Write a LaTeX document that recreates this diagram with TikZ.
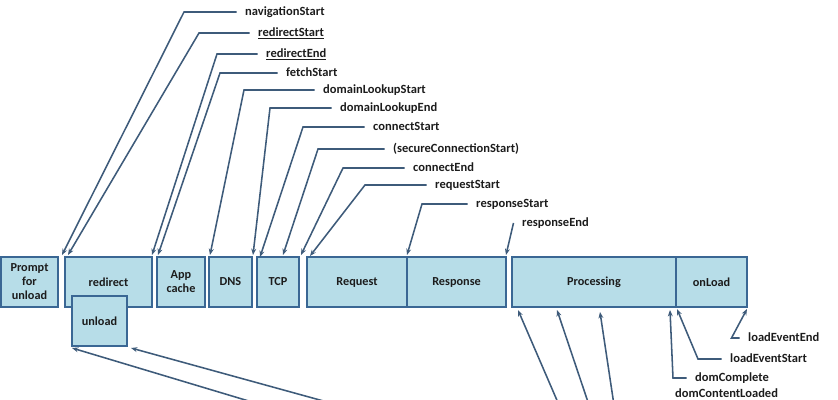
\documentclass[tikz,border=0pt]{standalone}
\usepackage{fontspec}
\setmainfont{Carlito}
\usetikzlibrary{arrows.meta,positioning}

\definecolor{boxfill}{HTML}{B7DDE8}
\definecolor{boxline}{HTML}{3A6794}
\definecolor{linkline}{HTML}{3E5B7A}
\definecolor{txt}{HTML}{1C1C1C}

\tikzset{
  stage/.style={draw=boxline, fill=boxfill, line width=1.4pt, minimum height=1.25cm,
    inner sep=0pt, outer sep=0pt, align=center, text=txt,
    font=\fontsize{8.7}{9.9}\selectfont\bfseries},
  tag/.style={anchor=west, inner xsep=6pt, inner ysep=0pt, text height=6.5pt,
    text depth=1.9pt, text=txt, font=\fontsize{8.9}{10}\selectfont\bfseries},
  link/.style={draw=linkline, line width=1.1pt, -{Stealth[length=4.5pt,width=3.5pt]}},
}

\begin{document}
\begin{tikzpicture}[x=0.025cm, y=-0.025cm]
	\useasboundingbox (0,0) rectangle (838,400);

	% Phasen
	\node[stage, minimum width=1.425cm] (prompt) at (29.5,282) {Prompt\\for\\unload};
	\node[stage, minimum width=2.175cm] (redirect) at (108.5,282) {redirect};
	\node[stage, minimum width=1.375cm] (unload) at (99.5,321) {unload};
	\node[stage, minimum width=1.2cm] (appcache) at (181,282) {App\\cache};
	\node[stage, minimum width=1.075cm] (dns) at (230.5,282) {DNS};
	\node[stage, minimum width=1.05cm] (tcp) at (278,282) {TCP};
	\node[stage, minimum width=2.5cm] (request) at (357,282) {Request};
	\node[stage, minimum width=2.475cm, right=0pt of request] (response) {Response};
	\node[stage, minimum width=4.1cm] (processing) at (594,282) {Processing};
	\node[stage, minimum width=1.775cm, right=0pt of processing] (onload) {onLoad};

	% Zeitpunkte oben
	\node[tag] (navStart) at (236.5,12) {navigationStart};
	\node[tag] (redirStart) at (249.5,33) {\underline{redirectStart}};
	\node[tag] (redirEnd) at (257.5,54) {\underline{redirectEnd}};
	\node[tag] (fetchStart) at (277.5,73) {fetchStart};
	\node[tag] (dnsStart) at (314.5,90) {domainLookupStart};
	\node[tag] (dnsEnd) at (331.5,108) {domainLookupEnd};
	\node[tag] (connStart) at (364.5,127) {connectStart};
	\node[tag] (secStart) at (384.5,149) {(secureConnectionStart)};
	\node[tag] (connEnd) at (404.5,168) {connectEnd};
	\node[tag] (reqStart) at (426.5,185) {requestStart};
	\node[tag] (respStart) at (467.5,204) {responseStart};
	\node[tag] (respEnd) at (513.5,223) {responseEnd};

	% Zeitpunkte unten
	\node[tag] (loadEnd) at (739.5,338) {loadEventEnd};
	\node[tag] (loadStart) at (721.5,359) {loadEventStart};
	\node[tag] (domCompl) at (686.5,378) {domComplete};
	\node[tag] (domCont) at (666.5,394) {domContentLoaded};

	% Pfeilspitzen
	\coordinate (navTip) at (62,255);
	\coordinate (redirStartTip) at (68,255);
	\coordinate (redirEndTip) at (152,255);
	\coordinate (fetchTip) at (158,255);
	\coordinate (dnsStartTip) at (210,255);
	\coordinate (dnsEndTip) at (253,255);
	\coordinate (connStartTip) at (260,257);
	\coordinate (secTip) at (283,255);
	\coordinate (connEndTip) at (301,255);
	\coordinate (reqTip) at (310,256);
	\coordinate (respStartTip) at (407,255);
	\coordinate (respEndTip) at (506,255);
	\coordinate (loadEndTip) at (747,309);
	\coordinate (loadStartTip) at (677,309);
	\coordinate (domComplTip) at (670,310);

	% Linien oben
	\draw[link] (navStart.west) -- ++(-52.5,0) -- (navTip);
	\draw[link] (redirStart.west) -- ++(-50.5,0) -- (redirStartTip);
	\draw[link] (redirEnd.west) -- ++(-40.5,0) -- (redirEndTip);
	\draw[link] (fetchStart.west) -- ++(-57.5,0) -- (fetchTip);
	\draw[link] (dnsStart.west) -- ++(-70.5,0) -- (dnsStartTip);
	\draw[link] (dnsEnd.west) -- ++(-61.5,0) -- (dnsEndTip);
	\draw[link] (connStart.west) -- ++(-61.5,0) -- (connStartTip);
	\draw[link] (secStart.west) -- ++(-66.5,0) -- (secTip);
	\draw[link] (connEnd.west) -- ++(-61.5,0) -- (connEndTip);
	\draw[link] (reqStart.west) -- ++(-61.5,0) -- (reqTip);
	\draw[link] (respStart.west) -- ++(-45.5,0) -- (respStartTip);
	\draw[link] (respEnd.west) -- (respEndTip);

	% Linien unten rechts
	\draw[link] (loadEnd.west) -- ++(-8,0) -- (loadEndTip);
	\draw[link] (loadStart.west) -- ++(-23.5,0) -- (loadStartTip);
	\draw[link] (domCompl.west) -- ++(-13.5,0) -- (domComplTip);

	% Linien von unterhalb des Bildes
	\coordinate (unloadA) at (262,405);
	\coordinate (unloadB) at (338,405);
	\coordinate (procA) at (559,405);
	\coordinate (procB) at (589,405);
	\coordinate (procC) at (614,405);
	\draw[link] (unloadA) -- (72,348);
	\draw[link] (unloadB) -- (131,348);
	\draw[link] (procA) -- (518,310);
	\draw[link] (procB) -- (557,310);
	\draw[link] (procC) -- (600,312);
\end{tikzpicture}
\end{document}
